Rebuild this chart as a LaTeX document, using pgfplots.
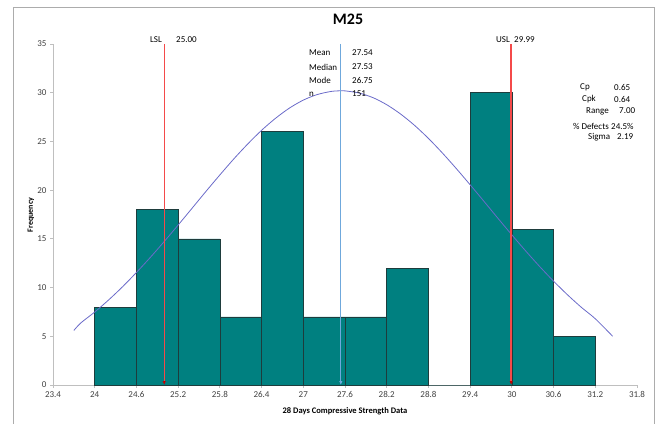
\documentclass[border=0pt]{standalone}
\usepackage{pgfplots}
\pgfplotsset{compat=1.18}
\usepackage{fontspec}
\setmainfont{Carlito}
\usetikzlibrary{arrows.meta}
\definecolor{barteal}{HTML}{008080}
\definecolor{baredge}{HTML}{1E3C3C}
\definecolor{curveblue}{HTML}{6B6BC9}
\definecolor{meanblue}{HTML}{6FA8DC}
\definecolor{speclred}{HTML}{F44A4A}
\definecolor{arrowred}{HTML}{C00000}
\definecolor{axgray}{HTML}{BFBFBF}
\definecolor{txtgray}{HTML}{404040}
\begin{document}
\begin{tikzpicture}[x=1bp,y=1bp]
\useasboundingbox (0,0) rectangle (659,423);
\draw[axgray!90!black, line width=0.8bp] (13,-2) -- (13,416) -- (654,416) -- (654,-2);
\begin{axis}[
  at={(53bp,38bp)}, anchor=south west,
  scale only axis, width=584bp, height=341bp,
  xmin=23.4, xmax=31.8, ymin=0, ymax=35,
  axis x line=bottom, axis y line=left,
  axis line style={-, axgray, line width=0.8bp},
  tick style={axgray, line width=0.8bp},
  tick align=outside, major tick length=3bp,
  xtick={23.4,24,24.6,25.2,25.8,26.4,27,27.6,28.2,28.8,29.4,30,30.6,31.2,31.8},
  xticklabels={23.4,24,24.6,25.2,25.8,26.4,27,27.6,28.2,28.8,29.4,30,30.6,31.2,31.8},
  ytick={0,5,10,15,20,25,30,35},
  yticklabels={0,5,10,15,20,25,30,35},
  tick label style={font=\fontsize{9bp}{10bp}\selectfont, text=txtgray},
  /pgf/number format/assume math mode=true,
  clip=false,
]
\addplot[ybar interval, fill=barteal, draw=baredge, line width=0.6bp]
  coordinates {(24,8) (24.6,18) (25.2,15) (25.8,7) (26.4,26) (27,7) (27.6,7) (28.2,12) (28.8,0) (29.4,30) (30,16) (30.6,5) (31.2,5)};
\addplot[curveblue, line width=0.8bp, smooth, mark=none] coordinates {
 (23.7,5.6) (23.8,6.37) (24.0,7.49) (24.2,8.73) (24.4,10.08) (24.6,11.55) (24.8,13.10)
 (25.0,14.73) (25.2,16.42) (25.4,18.14) (25.6,19.87) (25.8,21.56) (26.0,23.20)
 (26.2,24.73) (26.4,26.14) (26.6,27.37) (26.8,28.42) (27.0,29.24) (27.2,29.81)
 (27.4,30.13) (27.54,30.2) (27.6,30.19) (27.8,29.97) (28.0,29.50) (28.2,28.77)
 (28.4,27.81) (28.6,26.65) (28.8,25.31) (29.0,23.82) (29.2,22.22) (29.4,20.55)
 (29.6,18.84) (29.8,17.11) (30.0,15.41) (30.2,13.75) (30.4,12.16) (30.6,10.66)
 (30.8,9.26) (31.0,7.97) (31.2,6.80) (31.45,5.0)};
\addplot[color=speclred, line width=1.4bp, -{Latex[length=4bp,width=3.5bp,fill=arrowred,color=arrowred]}, mark=none] coordinates {(29.99,35) (29.99,0)};
\addplot[color=speclred, line width=1.4bp, -{Latex[length=4bp,width=3.5bp,fill=arrowred,color=arrowred]}, mark=none] coordinates {(25,35) (25,0)};
\addplot[color=meanblue, line width=1bp, -{Latex[length=4bp,width=3.5bp]}, mark=none] coordinates {(27.54,35) (27.54,0)};
\end{axis}
% title and labels
\node[font=\fontsize{16bp}{18bp}\selectfont\bfseries] at (348,404) {M25};
\node[font=\fontsize{8bp}{10bp}\selectfont\bfseries, rotate=90] at (31,208) {Frequency};
\node[font=\fontsize{8.5bp}{10bp}\selectfont\bfseries] at (345,12) {28 Days Compressive Strength Data};
% spec labels
\begin{scope}[every node/.style={font=\fontsize{9bp}{10bp}\selectfont, inner sep=0pt}]
\node[anchor=east] at (162,383) {LSL};
\node[anchor=west] at (176,383) {25.00};
\node[anchor=east] at (510,383) {USL};
\node[anchor=west] at (514,383) {29.99};
% centre stats
\node[anchor=west] at (309,370) {Mean};
\node[anchor=west] at (309,356) {Median};
\node[anchor=west] at (309,343) {Mode};
\node[anchor=west] at (309,329) {n};
\node[anchor=west] at (352,370) {27.54};
\node[anchor=west] at (352,356) {27.53};
\node[anchor=west] at (352,343) {26.75};
\node[anchor=west] at (352,329) {151};
% right stats
\node[anchor=west] at (580,336) {Cp};
\node[anchor=west] at (614,336) {0.65};
\node[anchor=west] at (582,324) {Cpk};
\node[anchor=west] at (614,324) {0.64};
\node[anchor=west] at (586,312) {Range};
\node[anchor=west] at (619,312) {7.00};
\node[anchor=east] at (609,297) {\% Defects};
\node[anchor=west] at (611,297) {24.5\%};
\node[anchor=west] at (588,286) {Sigma};
\node[anchor=west] at (617,286) {2.19};
\end{scope}
\end{tikzpicture}
\end{document}
